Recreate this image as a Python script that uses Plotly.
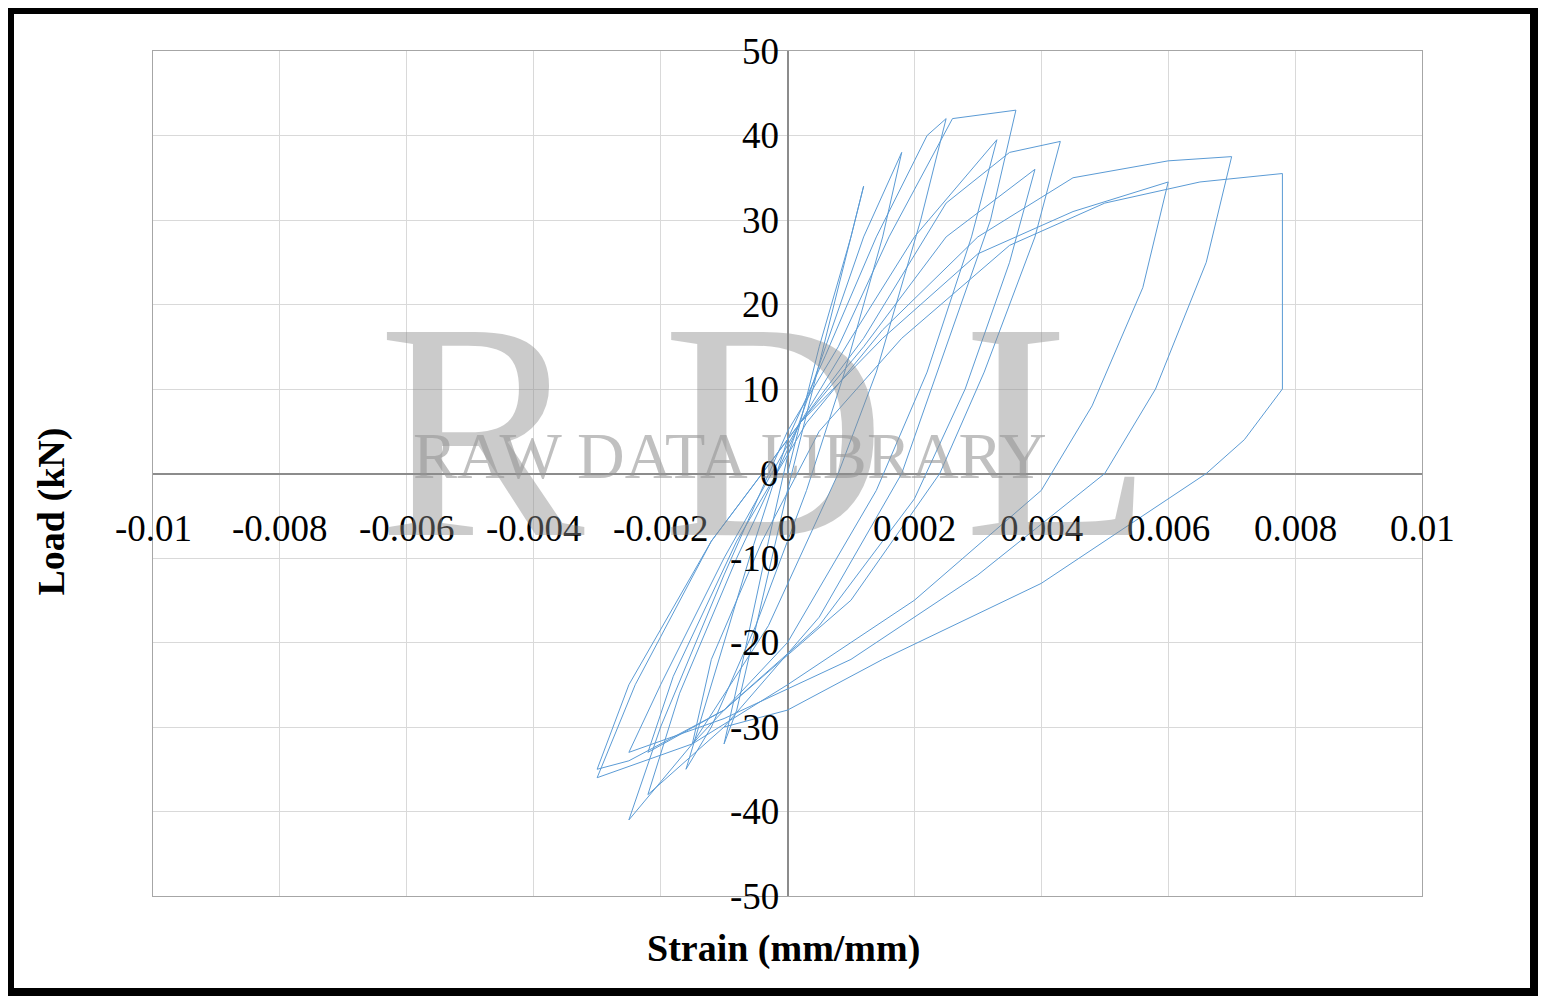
import plotly.graph_objects as go

# hysteresis path (strain mm/mm, load kN)
strain = [0,0.0005,0.0010,0.0012,0.0009,0.0004,0,-0.0004,-0.0008,-0.0010,-0.0007,-0.0003,0,
 0.0006,0.0012,0.0018,0.0015,0.0009,0.0003,-0.0005,-0.0012,-0.0016,-0.0012,-0.0006,0,
 0.0006,0.0014,0.0022,0.0025,0.0021,0.0014,0.0008,-0.0003,-0.0015,-0.0025,-0.0020,-0.0010,0,
 0.0008,0.0016,0.0026,0.0036,0.0032,0.0025,0.0018,0.0005,-0.0010,-0.0022,-0.0017,-0.0008,0.0002,
 0.0010,0.0020,0.0033,0.0029,0.0022,0.0014,0,-0.0015,-0.0030,-0.0024,-0.0012,0.0002,
 0.0012,0.0025,0.0035,0.0043,0.0039,0.0031,0.0024,0.0010,-0.0010,-0.0025,-0.0030,-0.0025,-0.0012,0.0002,
 0.0012,0.0025,0.0039,0.0035,0.0028,0.0020,0.0005,-0.0010,-0.0022,-0.0018,-0.0008,0.0003,
 0.0015,0.0030,0.0045,0.0060,0.0070,0.0066,0.0058,0.0050,0.0030,0.0010,-0.0010,-0.0025,-0.0020,-0.0010,0.0002,
 0.0015,0.0030,0.0045,0.0060,0.0056,0.0048,0.0040,0.0020,0,-0.0015,-0.0012,-0.0004,0.0005,
 0.0018,0.0035,0.0050,0.0065,0.0078,0.0078,0.0072,0.0066,0.0040,0.0015,0,-0.0010]
load = [0,15,28,34,25,10,-2,-15,-28,-32,-22,-8,2,
 15,28,38,28,12,-2,-18,-30,-35,-25,-10,4,
 14,28,40,42,30,12,0,-18,-32,-41,-30,-12,5,
 15,28,42,43,30,15,0,-17,-30,-38,-26,-10,6,
 16,28,39.5,28,12,-2,-20,-32,-36,-25,-8,6,
 16,32,38,39.3,28,12,0,-15,-28,-34,-35,-25,-8,6,
 15,28,36,25,10,-3,-18,-28,-33,-24,-8,6,
 17,28,35,37,37.5,25,10,0,-12,-22,-29,-33,-25,-10,6,
 16,26,31,34.5,22,8,-2,-15,-25,-32,-22,-8,5,
 16,27,32,34.5,35.5,10,4,0,-13,-22,-28,-30]

x_ticks = [-0.01,-0.008,-0.006,-0.004,-0.002,0,0.002,0.004,0.006,0.008,0.01]
x_labels = ["-0.01","-0.008","-0.006","-0.004","-0.002","0","0.002","0.004","0.006","0.008","0.01"]
y_ticks = [50,40,30,20,10,0,-10,-20,-30,-40,-50]

serif = "Liberation Serif, Times New Roman, serif"
fig = go.Figure(go.Scatter(x=strain, y=load, mode="lines",
                           line=dict(color="#5B9BD5", width=1), showlegend=False))

def px(p): return (p - 153) / 1269
def py(p): return (896 - p) / 845

ann = []
for xv, lab in zip(x_ticks, x_labels):
    ann.append(dict(x=xv, y=-6.5, text=lab, showarrow=False, xanchor="center", yanchor="middle",
                    font=dict(family=serif, size=37, color="black")))
for yv in y_ticks:
    ann.append(dict(x=-0.0001, y=yv, text=str(yv), showarrow=False, xanchor="right", yanchor="middle",
                    font=dict(family=serif, size=37, color="black")))
ann.append(dict(xref="paper", yref="paper", x=px(783), y=py(972), text="<b>Strain (mm/mm)</b>",
                showarrow=False, font=dict(family=serif, size=38, color="black")))
ann.append(dict(xref="paper", yref="paper", x=px(27), y=py(512), text="<b>Load (kN)</b>",
                textangle=-90, showarrow=False, font=dict(family=serif, size=38, color="black")))
ann.append(dict(xref="paper", yref="paper", x=px(765), y=py(430), text="R D L",
                showarrow=False, font=dict(family=serif, size=310, color="rgba(140,140,140,0.45)")))
ann.append(dict(xref="paper", yref="paper", x=px(730), y=py(455), text="RAW DATA LIBRARY",
                showarrow=False, font=dict(family=serif, size=66, color="rgba(150,150,150,0.6)")))

fig.update_layout(
    width=1539, height=997, plot_bgcolor="white", paper_bgcolor="white",
    margin=dict(l=145, r=125, t=43, b=109),
    xaxis=dict(range=[-0.01, 0.01], tickvals=x_ticks, showticklabels=False, showgrid=True,
               gridcolor="#d9d9d9", zeroline=True, zerolinecolor="#8c8c8c", zerolinewidth=1.5,
               showline=True, linecolor="#a6a6a6", mirror=True),
    yaxis=dict(range=[-50, 50], tickvals=y_ticks, showticklabels=False, showgrid=True,
               gridcolor="#d9d9d9", zeroline=True, zerolinecolor="#8c8c8c", zerolinewidth=1.5,
               showline=True, linecolor="#a6a6a6", mirror=True),
    annotations=ann,
    shapes=[dict(type="rect", xref="paper", yref="paper",
                 x0=px(10), x1=px(1534), y0=py(992), y1=py(10),
                 line=dict(color="black", width=8))],
)
fig.write_html("out.html")
